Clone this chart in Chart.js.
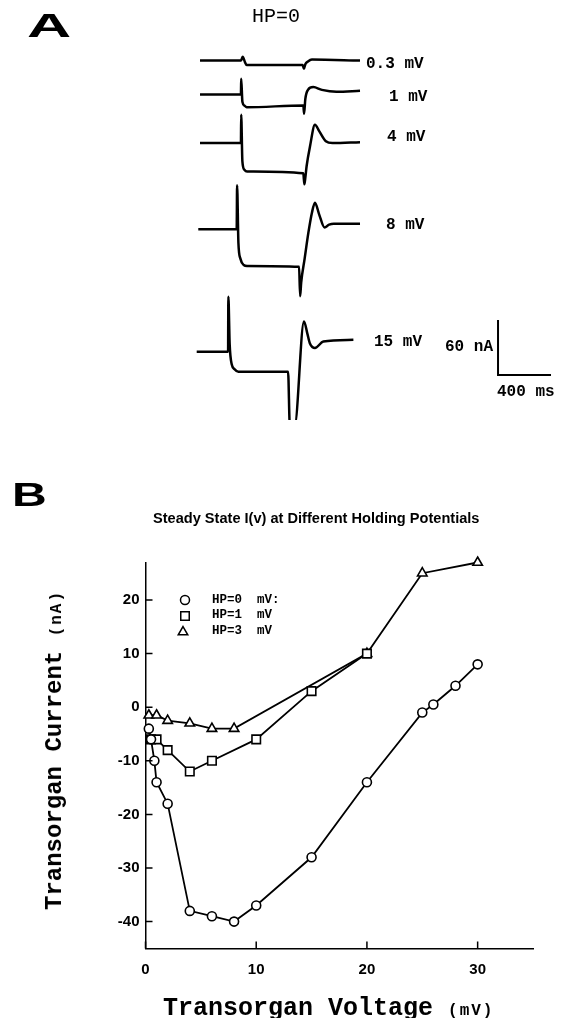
<!DOCTYPE html>
<html>
<head>
<meta charset="utf-8">
<script src="https://cdn.jsdelivr.net/npm/chart.js@4.4.1/dist/chart.umd.min.js"></script>
<style>
  html, body { margin: 0; padding: 0; background: #fff; }
  #page { position: relative; width: 562px; height: 1018px; overflow: hidden; }
  canvas { position: absolute; left: 0; }
  .lbl { position: absolute; color: #000; white-space: nowrap; line-height: 1; transform: translateY(-50%); }
  .mono { font-family: "Liberation Mono", "DejaVu Sans Mono", monospace; font-weight: bold; }
  .sans { font-family: "Liberation Sans", Arial, sans-serif; font-weight: bold; }
  .small { font-size: 16px; letter-spacing: 2px; }
</style>
</head>
<body>
<div id="page">
  <canvas id="chartA" width="562" height="420" style="top:0"></canvas>
  <canvas id="chartB" width="562" height="578" style="top:440px"></canvas>

  <!-- panel A labels -->
  <div class="lbl sans fit" data-w="45" style="left:27px;top:25px;font-size:34px;transform-origin:0 50%">A</div>
  <div class="lbl mono" style="left:252px;top:17px;font-size:20px;font-weight:normal">HP=0</div>
  <div class="lbl mono" style="left:366px;top:64px;font-size:16px">0.3 mV</div>
  <div class="lbl mono" style="left:389px;top:97px;font-size:16px">1 mV</div>
  <div class="lbl mono" style="left:387px;top:137px;font-size:16px">4 mV</div>
  <div class="lbl mono" style="left:386px;top:225px;font-size:16px">8 mV</div>
  <div class="lbl mono" style="left:374px;top:342px;font-size:16px">15 mV</div>
  <div class="lbl mono" style="left:445px;top:347px;font-size:16px">60 nA</div>
  <div class="lbl mono" style="left:497px;top:392px;font-size:16px">400 ms</div>

  <!-- panel B labels -->
  <div class="lbl sans fit" data-w="35" style="left:12px;top:494px;font-size:33px;transform-origin:0 50%">B</div>
  <div class="lbl sans fit" data-w="327" style="left:153px;top:518px;font-size:14px;transform-origin:0 50%">Steady State I(v) at Different Holding Potentials</div>
  <div class="lbl mono" style="left:212px;top:600px;font-size:12.5px">HP=0&nbsp;&nbsp;mV:</div>
  <div class="lbl mono" style="left:212px;top:615px;font-size:12.5px">HP=1&nbsp;&nbsp;mV</div>
  <div class="lbl mono" style="left:212px;top:631px;font-size:12.5px">HP=3&nbsp;&nbsp;mV</div>
  <div class="lbl mono" style="left:55px;top:750px;font-size:24px;transform:translate(-50%,-50%) rotate(-90deg)">Transorgan Current <span class="small">(nA)</span></div>
  <div class="lbl mono" style="left:163px;top:1008px;font-size:25px">Transorgan Voltage <span class="small">(mV)</span></div>
</div>

<script>
// ---- Panel B data: steady state I(V) ----
const hp0Volt = [0.3, 0.5, 0.8, 1, 2, 4, 6, 8, 10, 15, 20, 25, 26, 28, 30];
const hp0Curr = [-4, -6, -10, -14, -18, -38, -39, -40, -37, -28, -14, -1, 0.5, 4, 8];
const hp1Volt = [0.5, 1, 2, 4, 6, 10, 15, 20];
const hp1Curr = [-6, -6, -8, -12, -10, -6, 3, 10];
const hp3Volt = [0.3, 1, 2, 4, 6, 8, 20, 25, 30];
const hp3Curr = [-1.5, -1.5, -2.5, -3, -4, -4, 10, 25, 27];
const seriesNames = ['HP=0 mV', 'HP=1 mV', 'HP=3 mV'];
const xTicks = [0, 10, 20, 30];
const yTicks = [-40, -30, -20, -10, 0, 10, 20];

// ---- Panel A data: current traces (ms, nA relative to holding level) ----
const traceNames = ['0.3 mV', '1 mV', '4 mV', '8 mV', '15 mV'];
const trace03Ms = [0, 310, 322, 340, 352, 775, 785, 795, 815, 845, 1208];
const trace03nA = [0, 0, 4, -2, -5, -5, -9, -4, -1, 1, 0];
const trace1Ms = [0, 309, 311, 320, 335, 352, 780, 786, 795, 815, 855, 920, 1030, 1208];
const trace1nA = [0, 0, 17, -8, -12, -14, -12, -21, -5, 5, 8, 5, 3, 4];
const trace4Ms = [0, 309, 311, 320, 335, 355, 780, 788, 795, 805, 830, 868, 900, 950, 1000, 1208];
const trace4nA = [0, 0, 31, -20, -29, -31, -33, -45, -38, -25, -4, 20, 13, 2, 0, 1];
const trace8Ms = [-13, 277, 280, 290, 305, 330, 355, 748, 756, 764, 790, 818, 845, 868, 900, 940, 975, 1010, 1208];
const trace8nA = [0, 0, 48, -15, -32, -39, -40, -41, -73, -58, -32, -4, 18, 29, 16, 2, 5, 6, 6];
const trace15Ms = [-25, 212, 214, 224, 240, 260, 290, 665, 678, 715, 785, 810, 830, 868, 931, 1158];
const trace15nA = [0, 0, 60, 8, -14, -19, -22, -22, -80, -80, 33, 20, 9, 4, 11, 13];
const scaleBarNA = 60;
const scaleBarMs = 400;

// layout of the stacked traces (nA on panel scale)
const traceOffset = [392, 355, 302, 208, 74.5];
const scaleBarCorner = {x: 2250, y: 49};

function toPoints(xs, ys, dy) {
  return xs.map((v, i) => ({x: v, y: ys[i] + (dy || 0)}));
}

const traceMs = [trace03Ms, trace1Ms, trace4Ms, trace8Ms, trace15Ms];
const tracenA = [trace03nA, trace1nA, trace4nA, trace8nA, trace15nA];

const traceSets = traceNames.map((name, i) => ({
  label: name,
  data: toPoints(traceMs[i], tracenA[i], traceOffset[i]),
  showLine: true,
  borderColor: '#000',
  borderWidth: 2.5,
  pointRadius: 0,
  cubicInterpolationMode: 'monotone'
}));
traceSets.push({
  label: 'scale bar',
  data: [
    {x: scaleBarCorner.x, y: scaleBarCorner.y + scaleBarNA},
    {x: scaleBarCorner.x, y: scaleBarCorner.y},
    {x: scaleBarCorner.x + scaleBarMs, y: scaleBarCorner.y}
  ],
  showLine: true,
  borderColor: '#000',
  borderWidth: 2,
  pointRadius: 0
});

const chartA = new Chart(document.getElementById('chartA'), {
  type: 'scatter',
  data: {datasets: traceSets},
  options: {
    responsive: false,
    animation: false,
    layout: {padding: 0},
    plugins: {legend: {display: false}, tooltip: {enabled: false}},
    scales: {
      x: {type: 'linear', display: false, min: -1510, max: 2733},
      y: {type: 'linear', display: false, min: 0, max: 458}
    }
  }
});

// ---- Panel B ----
const inwardTicks = {
  id: 'inwardTicks',
  afterDatasetsDraw(chart) {
    const {ctx, chartArea, scales} = chart;
    ctx.save();
    ctx.strokeStyle = '#000';
    ctx.lineWidth = 1.5;
    ctx.beginPath();
    scales.x.ticks.forEach(t => {
      const px = scales.x.getPixelForValue(t.value);
      ctx.moveTo(px, chartArea.bottom);
      ctx.lineTo(px, chartArea.bottom - 7);
    });
    scales.y.ticks.forEach(t => {
      const py = scales.y.getPixelForValue(t.value);
      ctx.moveTo(chartArea.left, py);
      ctx.lineTo(chartArea.left + 7, py);
    });
    ctx.stroke();
    ctx.restore();
  }
};

const legendMarks = {
  id: 'legendMarks',
  afterDraw(chart) {
    const {ctx, chartArea} = chart;
    chart.data.datasets.forEach((ds, i) => {
      ctx.save();
      ctx.strokeStyle = '#000';
      ctx.fillStyle = '#fff';
      ctx.lineWidth = 1.5;
      Chart.helpers.drawPoint(ctx, {
        pointStyle: ds.pointStyle,
        radius: ds.pointRadius,
        borderWidth: 1.5,
        rotation: 0
      }, chartArea.left + 39.5 - (i == 2 ? 2 : 0), chartArea.top + 37.5 + i * 16);
      ctx.restore();
    });
  }
};

const ivSets = [
  {volt: hp0Volt, curr: hp0Curr, style: 'circle', r: 4.5},
  {volt: hp1Volt, curr: hp1Curr, style: 'rect', r: 6},
  {volt: hp3Volt, curr: hp3Curr, style: 'triangle', r: 5.5}
].map((s, i) => ({
  label: seriesNames[i],
  data: toPoints(s.volt, s.curr),
  showLine: true,
  clip: 10,
  borderColor: '#000',
  borderWidth: 1.8,
  pointStyle: s.style,
  pointRadius: s.r,
  pointBorderWidth: 1.6,
  pointBackgroundColor: '#fff',
  pointBorderColor: '#000'
}));

const tickFont = {family: '"Liberation Sans", Arial, sans-serif', weight: 'bold', size: 15};

const chartB = new Chart(document.getElementById('chartB'), {
  type: 'scatter',
  data: {datasets: ivSets},
  options: {
    responsive: false,
    animation: false,
    layout: {padding: {left: 0, top: 122.5, right: 29, bottom: 0}},
    plugins: {legend: {display: false}, tooltip: {enabled: false}},
    scales: {
      x: {
        type: 'linear', min: 0, max: 35,
        afterBuildTicks: axis => { axis.ticks = xTicks.map(v => ({value: v})); },
        afterFit: axis => { axis.height = 69.6; },
        grid: {display: true, drawOnChartArea: false, drawTicks: false},
        border: {display: true, color: '#000', width: 1.5},
        ticks: {color: '#000', font: tickFont, padding: 12, maxRotation: 0}
      },
      y: {
        type: 'linear', min: -45, max: 27,
        afterBuildTicks: axis => { axis.ticks = yTicks.map(v => ({value: v})); },
        afterFit: axis => { axis.width = 145.5; },
        grid: {display: true, drawOnChartArea: false, drawTicks: false},
        border: {display: true, color: '#000', width: 1.5},
        ticks: {color: '#000', font: tickFont, padding: 6}
      }
    }
  },
  plugins: [inwardTicks, legendMarks]
});

// squeeze the sans labels to the printed widths
document.querySelectorAll('.fit').forEach(el => {
  const w = +el.dataset.w;
  el.style.transform = 'translateY(-50%) scaleX(' + (w / el.offsetWidth) + ')';
});
</script>
</body>
</html>
